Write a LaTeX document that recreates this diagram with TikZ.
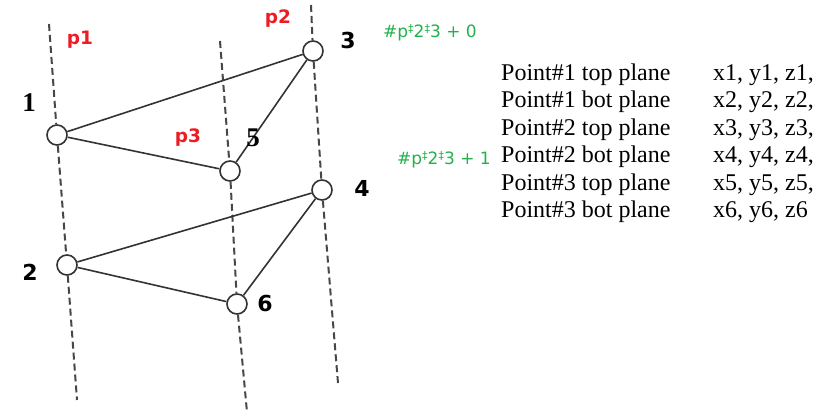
\documentclass[tikz,border=0pt]{standalone}
\usepackage{fontspec}
\setmainfont{Liberation Serif}
\newfontfamily\labsans{DejaVu Sans}
\definecolor{pgreen}{RGB}{34,177,76}
\definecolor{pred}{RGB}{237,28,36}
\newcommand{\ddagmark}{\raisebox{0.3em}{\fontsize{11}{11}\selectfont ‡}}
\begin{document}
\begin{tikzpicture}[x=1pt,y=-1pt,
  pt/.style={circle,draw=black!80,fill=white,line width=1.6pt,minimum size=20pt,inner sep=0pt},
  guide/.style={dash pattern=on 7pt off 4pt,line width=2pt,black!72},
  edge/.style={line width=1.6pt,black!80},
  numser/.style={font=\fontsize{27}{27}\selectfont\bfseries,inner sep=0pt},
  numsans/.style={font=\labsans\fontsize{22}{22}\selectfont\bfseries,inner sep=0pt},
  plab/.style={text=pred,font=\labsans\fontsize{18.5}{18.5}\selectfont\bfseries,inner sep=0pt},
  glab/.style={text=pgreen,font=\labsans\fontsize{17}{17}\selectfont,anchor=west,inner sep=0pt},
  row/.style={font=\fontsize{24}{24}\selectfont,anchor=mid west,inner sep=0pt}]
\useasboundingbox (0,0) rectangle (820,416);
% guide ends
\coordinate (p1t) at (49,24);
\coordinate (p1b) at (77,400);
\coordinate (p3t) at (220,41);
\coordinate (p3b) at (247,412);
\coordinate (p2t) at (311,5);
\coordinate (p2b) at (338,383);
% points
\node[pt] (n1) at (57,135) {};
\node[pt] (n2) at (67,265) {};
\node[pt] (n3) at (313,51) {};
\node[pt] (n4) at (322,190) {};
\node[pt] (n5) at (230,171) {};
\node[pt] (n6) at (237,304) {};
% guides
\draw[guide] (p1t) -- (n1);
\draw[guide] (n1) -- (n2);
\draw[guide] (n2) -- (p1b);
\draw[guide] (p3t) -- (n5);
\draw[guide] (n5) -- (n6);
\draw[guide] (n6) -- (p3b);
\draw[guide] (p2t) -- (n3);
\draw[guide] (n3) -- (n4);
\draw[guide] (n4) -- (p2b);
% edges
\draw[edge] (n1) -- (n3);
\draw[edge] (n1) -- (n5);
\draw[edge] (n5) -- (n3);
\draw[edge] (n2) -- (n4);
\draw[edge] (n2) -- (n6);
\draw[edge] (n6) -- (n4);
% number labels
\node[numser] (l1) at (29,103) {1};
\node[numsans] (l3) at (348,40) {3};
\node[numser] (l5) at (253,138) {5};
\node[numsans] (l2) at (30,272) {2};
\node[numsans] (l4) at (362,188) {4};
\node[numsans] (l6) at (265,303) {6};
% plane labels
\node[plab] (lp1) at (80,40) {p1};
\node[plab] (lp2) at (278,19) {p2};
\node[plab] (lp3) at (188,138) {p3};
% green labels
\node[glab] (g0) at (383,33) {\#p\ddagmark2\ddagmark3 + 0};
\node[glab] (g1) at (397,160) {\#p\ddagmark2\ddagmark3 + 1};
% table
\node[row] (r1a) at (501,78) {Point\#1 top plane};
\node[row] (r2a) at (501,105) {Point\#1 bot plane};
\node[row] (r3a) at (501,133) {Point\#2 top plane};
\node[row] (r4a) at (501,160) {Point\#2 bot plane};
\node[row] (r5a) at (501,188) {Point\#3 top plane};
\node[row] (r6a) at (501,215) {Point\#3 bot plane};
\node[row] (r1b) at (713,78) {x1, y1, z1,};
\node[row] (r2b) at (713,105) {x2, y2, z2,};
\node[row] (r3b) at (713,133) {x3, y3, z3,};
\node[row] (r4b) at (713,160) {x4, y4, z4,};
\node[row] (r5b) at (713,188) {x5, y5, z5,};
\node[row] (r6b) at (713,215) {x6, y6, z6};
\end{tikzpicture}
\end{document}
